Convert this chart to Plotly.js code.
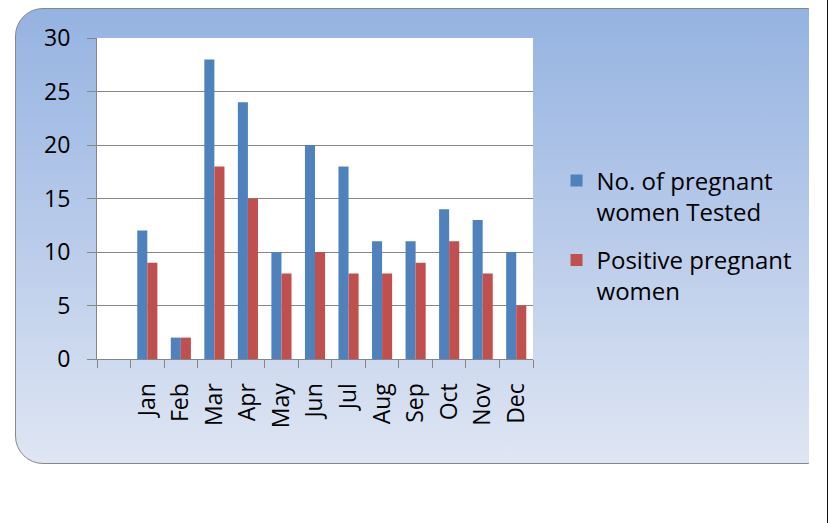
<!DOCTYPE html>
<html><head><meta charset="utf-8">
<script src="https://cdn.plot.ly/plotly-3.0.1.min.js"></script>
<style>
html,body{margin:0;padding:0;background:#fff;width:829px;height:523px;overflow:hidden;}
#clip{position:absolute;left:0;top:0;width:809px;height:523px;overflow:hidden;}
#box{position:absolute;left:15px;top:8px;width:820px;height:456px;border:1.5px solid #878787;border-radius:28px;
background:linear-gradient(to bottom,#95b3e1 0%,#b9cbea 50%,#dfe6f3 100%);box-sizing:border-box;}
#edge{position:absolute;left:827px;top:0;width:1px;height:523px;background:#111;}
#chart{position:absolute;left:0;top:0;width:829px;height:523px;}
</style></head>
<body>
<div id="clip"><div id="box"></div></div>
<div id="edge"></div>
<div id="chart"></div>
<script>
const months = ["", "Jan","Feb","Mar","Apr","May","Jun","Jul","Aug","Sep","Oct","Nov","Dec"];
const tested = [null, 12, 2, 28, 24, 10, 20, 18, 11, 11, 14, 13, 10];
const positive = [null, 9, 2, 18, 15, 8, 10, 8, 8, 9, 11, 8, 5];
const seriesNames = ["No. of pregnant<br>women Tested", "Positive pregnant<br>women"];

const font = "Open Sans, DejaVu Sans, sans-serif";
const data = [
  {type:"bar", x:months, y:tested, name:seriesNames[0], legendgroup:"g1", marker:{color:"#4f81bd"}},
  {type:"bar", x:months, y:positive, name:seriesNames[1], legendgroup:"g2", marker:{color:"#c0504d"}}
];
const layout = {
  width:829, height:523,
  margin:{l:97, r:296, t:38, b:164},
  paper_bgcolor:"rgba(0,0,0,0)",
  plot_bgcolor:"#ffffff",
  barmode:"group", bargap:0.4, bargroupgap:0,
  font:{family:font, size:24, color:"#000"},
  showlegend:true,
  legend:{x:1.054, xanchor:"left", y:0.625, yanchor:"top", bgcolor:"rgba(0,0,0,0)", valign:"top",
          traceorder:"grouped", font:{family:font, size:24, color:"#000"}, tracegroupgap:14, itemwidth:30},
  xaxis:{type:"category", tickangle:-90, ticks:"outside", ticklen:8, tickcolor:"#868686",
         tickson:"boundaries", showline:true, linecolor:"#868686", linewidth:1, ticklabelstandoff:14,
         showgrid:false, tickfont:{family:font, size:23, color:"#000"}, fixedrange:true},
  yaxis:{range:[0,30], dtick:5, ticks:"outside", ticklen:9, tickcolor:"#868686", ticklabelstandoff:12,
         showline:true, linecolor:"#868686", gridcolor:"#868686", gridwidth:1,
         zeroline:false, tickfont:{family:font, size:23, color:"#000"}, fixedrange:true}
};
Plotly.newPlot("chart", data, layout, {displayModeBar:false, staticPlot:true});
</script>
</body></html>
